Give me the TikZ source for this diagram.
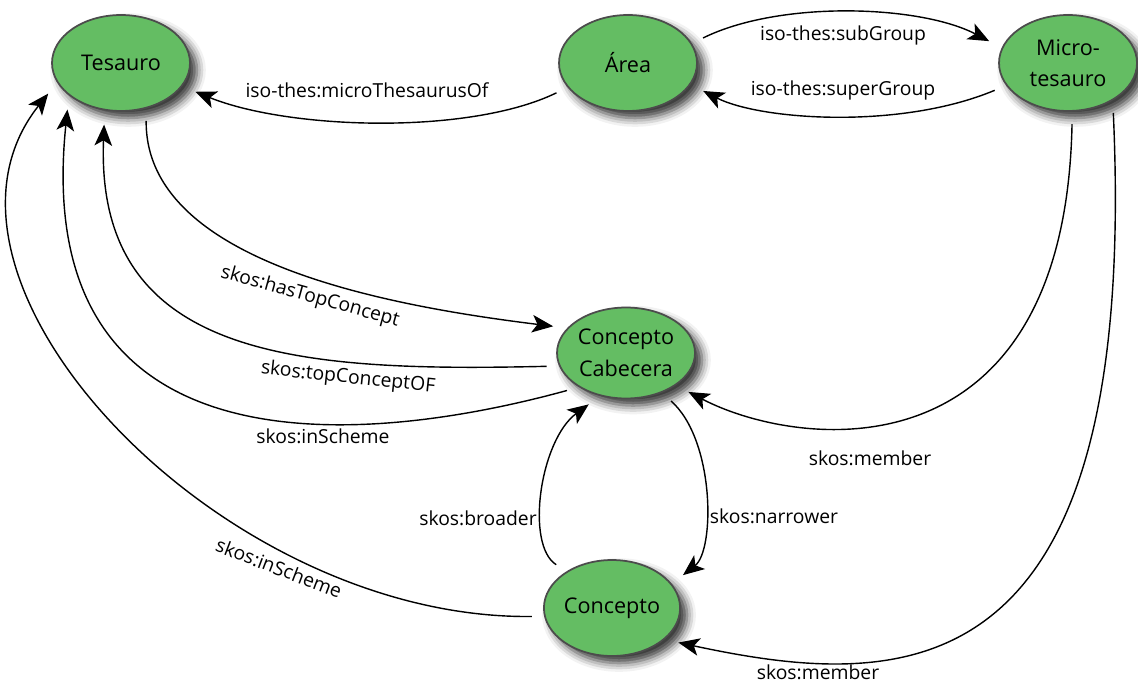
\documentclass[tikz,border=0pt]{standalone}
\usepackage{fontspec}
\setmainfont{Open Sans}
\usetikzlibrary{arrows.meta,shapes.geometric,shadows.blur}
\definecolor{nodegreen}{RGB}{100,189,99}
\begin{document}
\begin{tikzpicture}[x=0.02cm, y=-0.02cm,
    concept/.style={ellipse, draw=black!70, line width=1pt, fill=nodegreen,
      minimum width=2.76cm, minimum height=1.92cm, inner sep=0pt, align=center,
      font=\fontsize{12.3}{18}\selectfont,
      blur shadow={shadow xshift=4pt, shadow yshift=-4pt, shadow blur radius=5pt, shadow opacity=80}},
    rel/.style={line width=0.8pt, shorten <=7pt, shorten >=8pt,
      -{Stealth[length=12pt,width=10pt,inset=3pt]}},
    lbl/.style={font=\fontsize{11}{13}\selectfont, inner sep=0pt}]
      \useasboundingbox (0,0) rectangle (1138,682);
      \node[concept] (tes) at (121,63){Tesauro};
      \node[concept] (area) at (628,63){Área};
      \node[concept] (micro) at (1068,63){Micro-\\tesauro};
      \node[concept, minimum height=1.82cm] (cab) at (626,353){Concepto\\Cabecera};
      \node[concept, minimum width=2.7cm] (con) at (612,608){Concepto};

      \draw[rel] (tes.-61) .. controls (145,260) and (380,305) .. (cab.157);
      \draw[rel] (cab.191) .. controls (300,372) and (95,360) .. (tes.251);
      \draw[rel] (cab.216) .. controls (350,450) and (30,470) .. (tes.212);
      \draw[rel] (con.187) .. controls (220,620) and (-100,280) .. (tes.197);
      \draw[rel] (area.202) .. controls (470,135) and (290,130) .. (tes.-21);
      \draw[rel] (area.17) .. controls (780,0) and (920,5) .. (micro.167);
      \draw[rel] (micro.200) .. controls (900,130) and (760,120) .. (area.-19);
      \draw[rel] (micro.-85) .. controls (1065,480) and (800,450) .. (cab.-33);
      \draw[rel] (micro.-40) .. controls (1140,700) and (900,690) .. (con.-31);
      \draw[rel] (con.141) .. controls (525,545) and (540,440) .. (cab.239);
      \draw[rel] (cab.-48) .. controls (715,440) and (715,550) .. (con.22);

      \node[lbl] (lmicro) at (367,90){iso-thes:microThesaurusOf};
      \node[lbl] (lsub) at (843,35){iso-thes:subGroup};
      \node[lbl] (lsuper) at (843,90){iso-thes:superGroup};
      \node[lbl, rotate=-15.5] (lhas) at (310,297){skos:hasTopConcept};
      \node[lbl, rotate=-6] (ltop) at (348,378){skos:topConceptOF};
      \node[lbl] (lsch1) at (323,436){skos:inScheme};
      \node[lbl, rotate=-21] (lsch2) at (279,568){skos:inScheme};
      \node[lbl] (lmem1) at (870,458){skos:member};
      \node[lbl] (lmem2) at (818,672){skos:member};
      \node[lbl] (lbro) at (478,518){skos:broader};
      \node[lbl] (lnar) at (774,516){skos:narrower};

    \end{tikzpicture}
\end{document}
